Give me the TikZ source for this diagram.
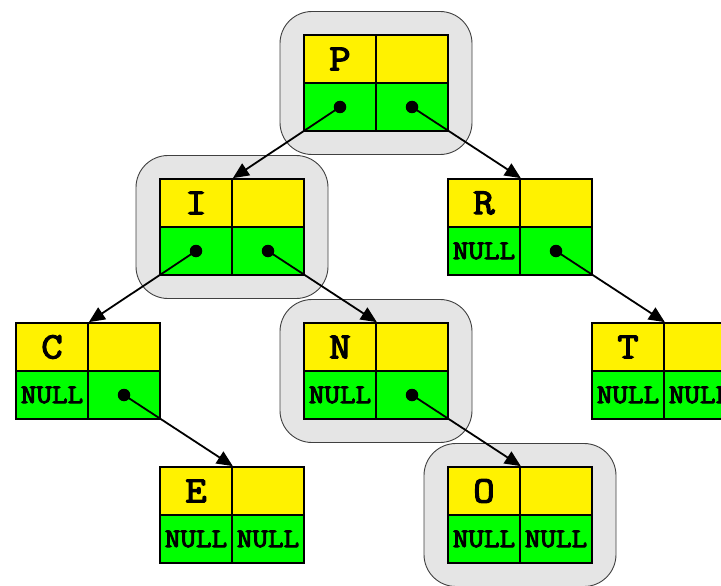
\documentclass[tikz,border=0pt]{standalone}
\usepackage{fontspec}
\newfontfamily\courb{Latin Modern Mono}[FakeBold=3.5,FakeStretch=1.12]
\usetikzlibrary{arrows.meta}
\tikzset{
  cell/.style={draw=black, line width=1.7pt, minimum width=72pt, minimum height=48pt, inner sep=0pt},
  keycell/.style={cell, fill=yellow, font=\courb\fontsize{37}{37}\selectfont},
  ptrcell/.style={cell, fill=green, font=\courb\fontsize{27}{27}\selectfont},
  bgbox/.style={draw=black!75, fill=black!10, line width=0.9pt, rounded corners=32pt, minimum width=192pt, minimum height=143pt, inner sep=0pt},
  link/.style={line width=1.8pt, -{Triangle[length=16pt,width=14pt]}},
  dotmark/.style={circle, fill=black, inner sep=0pt, minimum size=12.5pt}
}
\newcommand\bstnode[6]{%
  \node[keycell] (#1-tl) at (#2+36,#3+24) {#4};
  \node[keycell] (#1-tr) at (#2+108,#3+24) {};
  \node[ptrcell] (#1-bl) at (#2+36,#3+72) {#5};
  \node[ptrcell] (#1-br) at (#2+108,#3+72) {#6};
}
\newcommand\bstbg[3]{%
  \node[bgbox] (#1-bg) at (#2+72,#3+48) {};
}
\begin{document}
\begin{tikzpicture}[x=1pt,y=-1pt]
  \useasboundingbox (0,0) rectangle (721,586);
  \clip (0,0) rectangle (721,586);
  % highlighted path backgrounds
  \bstbg{P}{304}{35}
  \bstbg{I}{160}{179}
  \bstbg{N}{304}{323}
  \bstbg{O}{448}{467}
  % nodes
  \bstnode{P}{304}{35}{P}{}{}
  \bstnode{I}{160}{179}{I}{}{}
  \bstnode{R}{448}{179}{R}{NULL}{}
  \bstnode{C}{16}{323}{C}{NULL}{}
  \bstnode{N}{304}{323}{N}{NULL}{}
  \bstnode{T}{592}{323}{T}{NULL}{NULL}
  \bstnode{E}{160}{467}{E}{NULL}{NULL}
  \bstnode{O}{448}{467}{O}{NULL}{NULL}
  % pointer dots
  \node[dotmark] (P-ld) at (P-bl.center) {};
  \node[dotmark] (P-rd) at (P-br.center) {};
  \node[dotmark] (I-ld) at (I-bl.center) {};
  \node[dotmark] (I-rd) at (I-br.center) {};
  \node[dotmark] (R-rd) at (R-br.center) {};
  \node[dotmark] (C-rd) at (C-br.center) {};
  \node[dotmark] (N-rd) at (N-br.center) {};
  % links
  \draw[link] (P-ld.center) -- (I-tl.north east);
  \draw[link] (P-rd.center) -- (R-tl.north east);
  \draw[link] (I-ld.center) -- (C-tl.north east);
  \draw[link] (I-rd.center) -- (N-tl.north east);
  \draw[link] (R-rd.center) -- (T-tl.north east);
  \draw[link] (C-rd.center) -- (E-tl.north east);
  \draw[link] (N-rd.center) -- (O-tl.north east);
\end{tikzpicture}
\end{document}
